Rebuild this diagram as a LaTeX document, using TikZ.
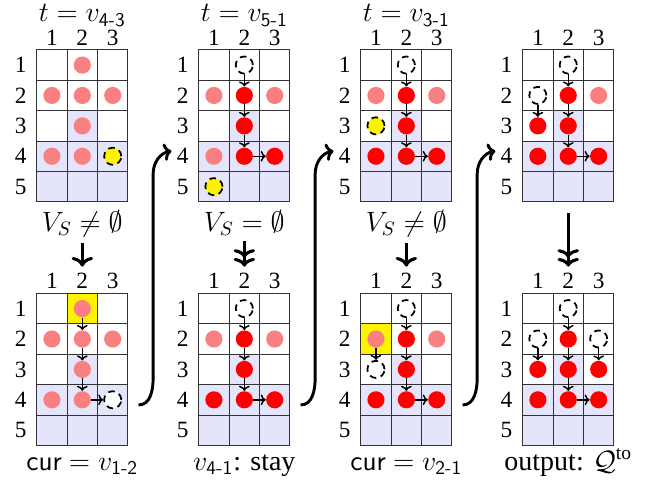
\documentclass[tikz,border=0pt]{standalone}
\usepackage[no-math]{fontspec}
\setmainfont{Liberation Serif}
\usepackage{amsmath}
\usetikzlibrary{calc, arrows.meta}

\definecolor{lightred}{RGB}{248,128,128}
\definecolor{lane}{RGB}{228,228,250}

\tikzset{
    cell/.style={draw=black!80, line width=0.5pt, minimum size=5.5mm, inner sep=0pt, outer sep=0pt},
    agent/.style={circle, minimum size=3.1mm, inner sep=0pt},
    pk/.style={agent, fill=lightred},
    rd/.style={agent, fill=red},
    ye/.style={agent, fill=yellow, draw=black, line width=0.9pt, dash pattern=on 3.4pt off 2.4pt},
    em/.style={agent, fill=white, draw=black, line width=0.9pt, dash pattern=on 3.4pt off 2.4pt},
    move/.style={-{To[length=2.6pt,width=5.5pt]}, line width=0.75pt},
    down/.style={line width=1.6pt},
    jump/.style={-{To[length=4pt,width=9pt]}, line width=1.5pt},
    caption/.style={anchor=base, font=\Large, inner sep=1pt}
}

\begin{document}
\begin{tikzpicture}[x=0.55cm, y=0.55cm]

    \useasboundingbox (0,0) rectangle (21.28,15.82);

    % Grids
    \foreach \g/\gx/\gy in {A/1.207/14.18, B/6.536/14.18, C/11.865/14.18, D/17.19/14.18,
                            E/1.207/6.17, F/6.536/6.17, G/11.865/6.17, H/17.19/6.17} {
        \fill[lane] (\gx+1,\gy-3) rectangle (\gx+2,\gy-2);
        \fill[lane] (\gx,\gy-5) rectangle (\gx+3,\gy-3);
        \foreach \r in {1,...,5} {
            \foreach \c in {1,2,3}
                \node[cell] (\g-\r-\c) at (\gx+\c-0.5, \gy-\r+0.5) {};
            \node[font=\large] (\g-r\r) at (\gx-0.53, \gy-\r+0.5) {\r};
        }
        \foreach \c in {1,2,3}
            \node[font=\large] (\g-c\c) at (\gx+\c-0.5, \gy+0.4) {\c};
    }

    % Current cells
    \node[cell, fill=yellow] (E-hl) at (E-1-2) {};
    \node[cell, fill=yellow] (G-hl) at (G-2-1) {};

    % Agents
    \foreach \r/\c/\s in {1/2/pk, 2/1/pk, 2/2/pk, 2/3/pk, 3/2/pk, 4/1/pk, 4/2/pk, 4/3/ye}
        \node[\s] (a\r\c) at (A-\r-\c) {};
    \foreach \r/\c/\s in {1/2/em, 2/1/pk, 2/2/rd, 2/3/pk, 3/2/rd, 4/1/pk, 4/2/rd, 4/3/rd, 5/1/ye}
        \node[\s] (b\r\c) at (B-\r-\c) {};
    \foreach \r/\c/\s in {1/2/em, 2/1/pk, 2/2/rd, 2/3/pk, 3/1/ye, 3/2/rd, 4/1/rd, 4/2/rd, 4/3/rd}
        \node[\s] (c\r\c) at (C-\r-\c) {};
    \foreach \r/\c/\s in {1/2/em, 2/1/em, 2/2/rd, 2/3/pk, 3/1/rd, 3/2/rd, 4/1/rd, 4/2/rd, 4/3/rd}
        \node[\s] (d\r\c) at (D-\r-\c) {};
    \foreach \r/\c/\s in {1/2/pk, 2/1/pk, 2/2/pk, 2/3/pk, 3/2/pk, 4/1/pk, 4/2/pk, 4/3/em}
        \node[\s] (e\r\c) at (E-\r-\c) {};
    \foreach \r/\c/\s in {1/2/em, 2/1/pk, 2/2/rd, 2/3/pk, 3/2/rd, 4/1/rd, 4/2/rd, 4/3/rd}
        \node[\s] (f\r\c) at (F-\r-\c) {};
    \foreach \r/\c/\s in {1/2/em, 2/1/pk, 2/2/rd, 2/3/pk, 3/1/em, 3/2/rd, 4/1/rd, 4/2/rd, 4/3/rd}
        \node[\s] (g\r\c) at (G-\r-\c) {};
    \foreach \r/\c/\s in {1/2/em, 2/1/em, 2/2/rd, 2/3/em, 3/1/rd, 3/2/rd, 3/3/rd, 4/1/rd, 4/2/rd, 4/3/rd}
        \node[\s] (h\r\c) at (H-\r-\c) {};

    % Paths
    \foreach \k in {b,c,d,e,f,g,h}
        \foreach \p/\q in {12/22, 22/32, 32/42, 42/43}
            \draw[move] (\k\p) -- (\k\q);
    \draw[move] (d21) -- (d31);
    \draw[move] (g21) -- (g31);
    \draw[move] (h21) -- (h31);
    \draw[move] (h23) -- (h33);

    % Labels
    \node[caption] (A-t) at (2.707,15.1) {$t=v_{\textsf{4-3}}$};
    \node[caption] (B-t) at (8.036,15.1) {$t=v_{\textsf{5-1}}$};
    \node[caption] (C-t) at (13.365,15.1) {$t=v_{\textsf{3-1}}$};
    \node[caption] (A-b) at (2.707,8.22) {$V_S\neq\emptyset$};
    \node[caption] (B-b) at (8.036,8.22) {$V_S=\emptyset$};
    \node[caption] (C-b) at (13.365,8.22) {$V_S\neq\emptyset$};
    \node[caption] (E-b) at (2.707,0.36) {\textsf{cur} $=v_{\textsf{1-2}}$};
    \node[caption] (F-b) at (8.036,0.36) {$v_{\textsf{4-1}}$: stay};
    \node[caption] (G-b) at (13.365,0.36) {\textsf{cur} $=v_{\textsf{2-1}}$};
    \node[caption] (H-b) at (18.69,0.36) {output: $\mathcal{Q}^{\text{to}}$};

    % Down arrows
    \coordinate (D-out) at ($(D-5-2.south)+(0,-0.36)$);
    \draw[down, -{To[length=5pt,width=11pt]}, shorten <=2pt] (A-b) -- (E-c2);
    \draw[down, -{To[length=4.5pt,width=11pt] To[length=4.5pt,width=11pt]}, shorten <=2pt] (B-b) -- (F-c2);
    \draw[down, -{To[length=5pt,width=11pt]}, shorten <=2pt] (C-b) -- (G-c2);
    \draw[down, -{To[length=4.5pt,width=11pt] To[length=4.5pt,width=11pt]}] (D-out) -- (H-c2);

    % Back to the next grid
    \foreach \a/\b in {E/B, F/C, G/D} {
        \coordinate (\a-out) at ($(\a-4-3.east)+(0.35,-0.17)$);
        \coordinate (\b-in) at ($(\b-r4.west)+(0.05,0.17)$);
        \draw[jump] (\a-out) to[out=0,in=-90] ++(0.48,0.9) -- ++(0,6.7) to[out=90,in=190] (\b-in);
    }

\end{tikzpicture}
\end{document}
